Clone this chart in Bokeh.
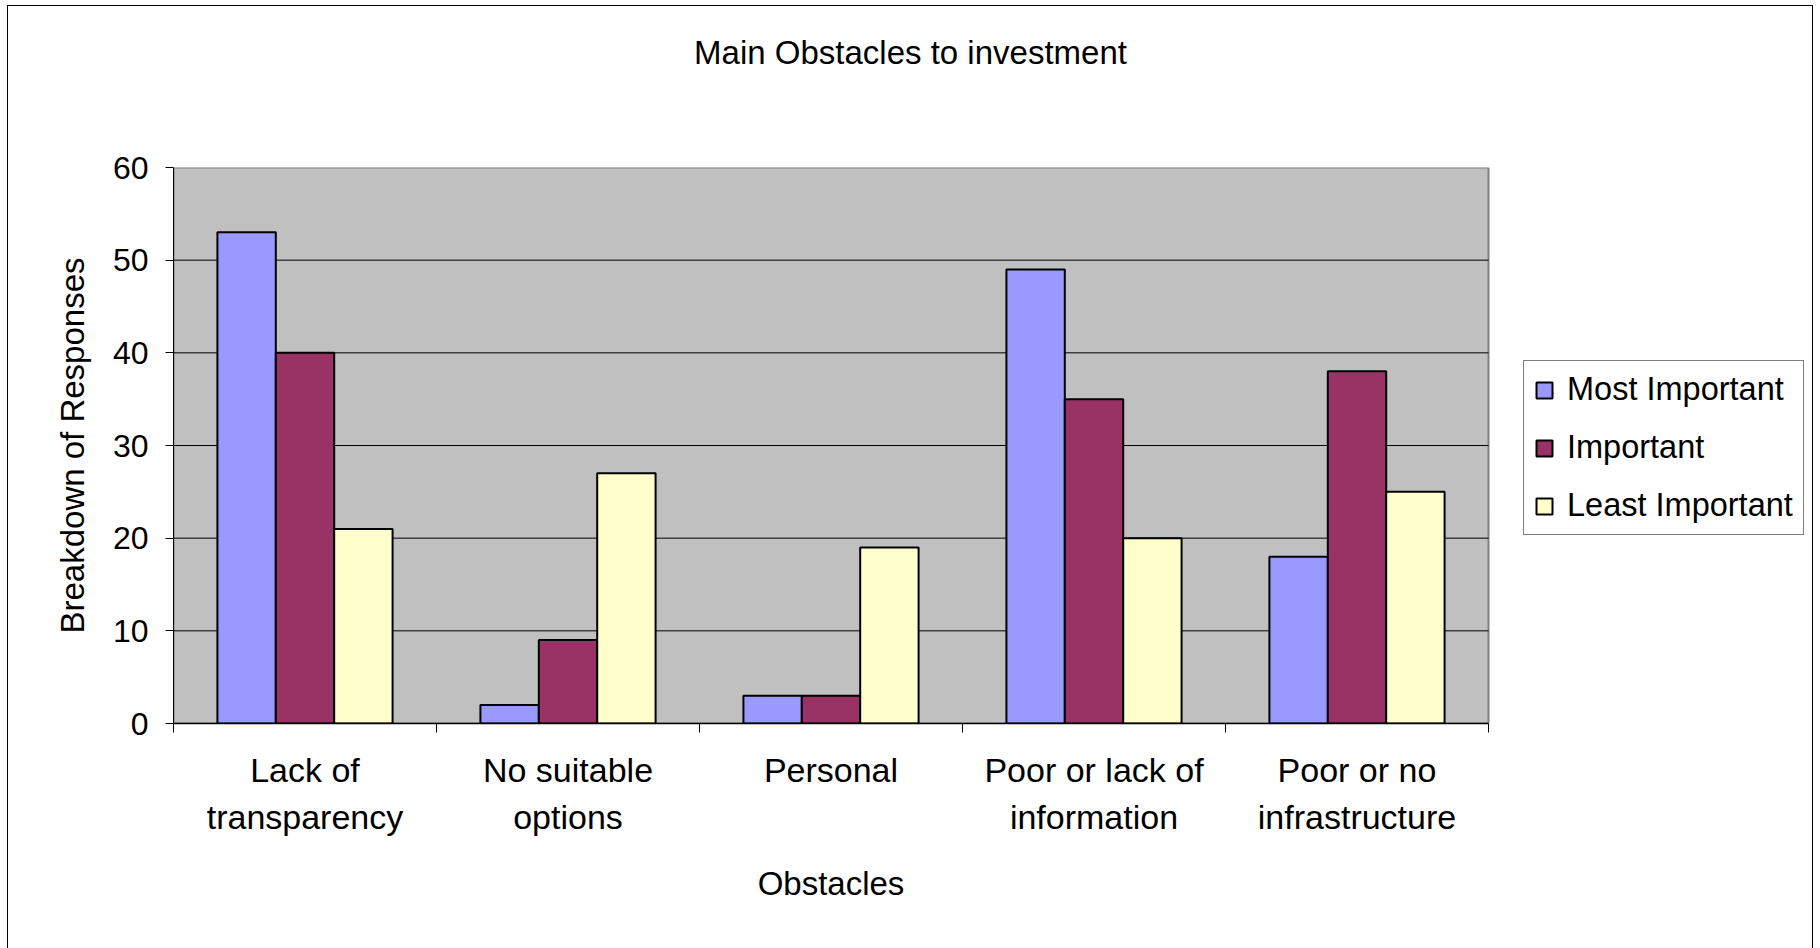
from bokeh.plotting import figure
from bokeh.models import (Range1d, FixedTicker, Legend, LegendItem, LinearAxis,
                          CustomJSTickFormatter, InlineStyleSheet)
from bokeh.embed import file_html
from bokeh.resources import INLINE

# ---- data ----
chart_title = "Main Obstacles to investment"
x_title = "Obstacles"
y_title = "Breakdown of Responses"
categories = ["Lack of transparency", "No suitable options", "Personal",
              "Poor or lack of information", "Poor or no infrastructure"]
label_line1 = ["Lack of", "No suitable", "Personal", "Poor or lack of", "Poor or no"]
label_line2 = ["transparency", "options", "", "information", "infrastructure"]
series_names = ["Most Important", "Important", "Least Important"]
most_important = [53, 2, 3, 49, 18]
important = [40, 9, 3, 35, 38]
least_important = [21, 27, 19, 20, 25]
y_ticks = [0, 10, 20, 30, 40, 50, 60]
colors = ["#9999FF", "#993366", "#FFFFCC"]

FONT = "Liberation Sans"

# layout (canvas pixels)
W, H = 1820, 948
FL, FT, FB = 173, 167, 723          # plot-area left / top / bottom
PLOT_R = 1488                       # plot-area right edge
FRAME_R = 1813                      # frame extends to the chart border (holds the legend)
CHART_CENTER_X = (7 + 1813) / 2
PLOT_CENTER_X = (FL + PLOT_R) / 2
n = len(categories)
x_end = n * (FRAME_R - FL) / (PLOT_R - FL)

p = figure(width=W, height=H, output_backend="svg", toolbar_location=None, title=None,
           x_range=Range1d(0, x_end), y_range=Range1d(y_ticks[0], y_ticks[-1]),
           min_border_left=FL, min_border_right=W - FRAME_R, min_border_top=FT,
           min_border_bottom=H - FB)
p.background_fill_color = "white"
p.border_fill_color = "white"
p.outline_line_color = None
p.xgrid.visible = False
p.ygrid.visible = False

# plot area background and gridlines
p.quad(left=[0], right=[n], bottom=[y_ticks[0]], top=[y_ticks[-1]],
       fill_color="#C0C0C0", line_color="#808080", line_width=2)
grid_vals = y_ticks[1:-1]
p.segment(x0=[0] * len(grid_vals), x1=[n] * len(grid_vals), y0=grid_vals, y1=grid_vals,
          line_color="black", line_width=1)

# bars
centers = [i + 0.5 for i in range(n)]
bw = 0.222
offsets = [-bw, 0.0, bw]
renderers = []
for vals, off, col in zip([most_important, important, least_important], offsets, colors):
    r = p.vbar(x=[c + off for c in centers], top=vals, bottom=0, width=bw,
               fill_color=col, line_color="black", line_width=2)
    renderers.append(r)

# y axis
ya = p.yaxis[0]
ya.ticker = FixedTicker(ticks=y_ticks)
ya.axis_line_color = "black"
ya.major_tick_line_color = "black"
ya.major_tick_out = 8
ya.major_tick_in = 0
ya.minor_tick_line_color = None
ya.major_label_standoff = 17
ya.major_label_text_font = FONT
ya.major_label_text_font_size = "32px"
ya.major_label_text_color = "black"
ya.axis_label = y_title
ya.axis_label_text_font = FONT
ya.axis_label_text_font_size = "33px"
ya.axis_label_text_font_style = "normal"
ya.axis_label_text_color = "black"
ya.axis_label_standoff = 19

# x axis line 1
xa = p.xaxis[0]
xa.bounds = (0, n)
xa.ticker = FixedTicker(ticks=centers, minor_ticks=list(range(n + 1)))
xa.formatter = CustomJSTickFormatter(args=dict(labels=label_line1),
                                     code="return labels[Math.floor(tick)] || ''")
xa.axis_line_color = "black"
xa.axis_line_width = 1.5
xa.major_tick_line_color = None
xa.major_tick_out = 0
xa.major_tick_in = 0
xa.minor_tick_line_color = "black"
xa.minor_tick_out = 9
xa.minor_tick_in = 0
xa.major_label_standoff = 18
xa.major_label_text_font = FONT
xa.major_label_text_font_size = "34px"
xa.major_label_text_color = "black"

# x axis line 2
xa2 = LinearAxis(ticker=FixedTicker(ticks=centers), bounds=(0, n),
                 formatter=CustomJSTickFormatter(args=dict(labels=label_line2),
                                                 code="return labels[Math.floor(tick)] || ''"))
xa2.axis_line_color = None
xa2.major_tick_line_color = None
xa2.minor_tick_line_color = None
xa2.major_tick_out = 0
xa2.major_tick_in = 0
xa2.major_label_standoff = 6
xa2.major_label_text_font = FONT
xa2.major_label_text_font_size = "34px"
xa2.major_label_text_color = "black"
p.add_layout(xa2, "below")

# pixel range for placing the chart / axis titles
p.extra_x_ranges = {"title_px": Range1d(FL, FRAME_R)}


def text_axis(text, x_px, standoff, size):
    ax = LinearAxis(x_range_name="title_px", ticker=FixedTicker(ticks=[x_px]),
                    formatter=CustomJSTickFormatter(args=dict(t=text), code="return t"))
    ax.axis_line_color = None
    ax.major_tick_line_color = None
    ax.minor_tick_line_color = None
    ax.major_tick_out = 0
    ax.major_tick_in = 0
    ax.major_label_standoff = standoff
    ax.major_label_text_font = FONT
    ax.major_label_text_font_size = size
    ax.major_label_text_color = "black"
    return ax


# x-axis title, centred under the plot area
p.add_layout(text_axis(x_title, PLOT_CENTER_X, 26, "33px"), "below")
# chart title, centred on the whole chart area
p.add_layout(text_axis(chart_title, CHART_CENTER_X, 97, "33px"), "above")

# legend (inside the wide frame, to the right of the plot area)
legend = Legend(items=[LegendItem(label=s, renderers=[r]) for s, r in zip(series_names, renderers)],
                location=(1523 - FL, FB - 535))
legend.margin = 0
legend.glyph_width = 20
legend.glyph_height = 20
legend.label_standoff = 13
legend.padding = 10
legend.spacing = 21
legend.label_text_font = FONT
legend.label_text_font_size = "32.5px"
legend.label_text_color = "black"
legend.border_line_color = "black"
legend.border_line_width = 1
legend.background_fill_color = "white"
legend.background_fill_alpha = 1
p.add_layout(legend)

# outer chart border (open at the bottom, as in the reference)
p.stylesheets = [InlineStyleSheet(css=(
    ":host::after { content: ''; position: absolute; left: 7px; top: 5px; right: 7px; "
    "bottom: 0px; border: 1.5px solid #000; border-bottom: none; pointer-events: none; "
    "box-sizing: border-box; }"))]

open("out.html", "w").write(file_html(p, INLINE))
